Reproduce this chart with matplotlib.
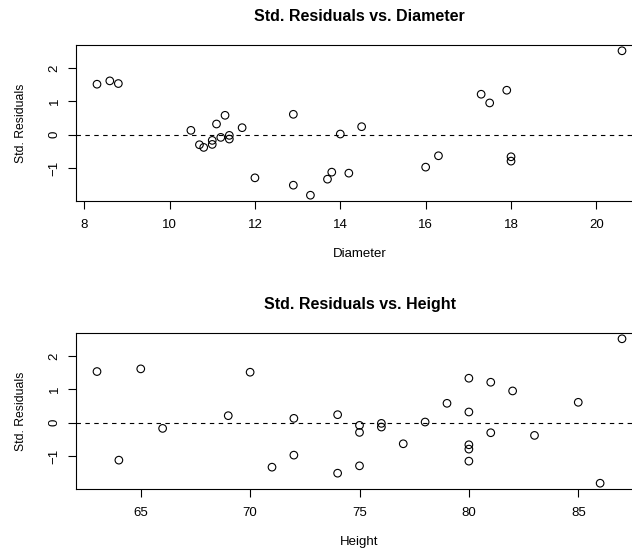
import matplotlib
matplotlib.use("Agg")
import matplotlib.pyplot as plt

plt.rcParams["font.family"] = ["Liberation Sans", "DejaVu Sans"]

# trees data: diameter (girth), height and the standardized residuals
diameter = [8.3, 8.6, 8.8, 10.5, 10.7, 10.8, 11.0, 11.0, 11.1, 11.2, 11.3, 11.4, 11.4, 11.7,
            12.0, 12.9, 12.9, 13.3, 13.7, 13.8, 14.0, 14.2, 14.5, 16.0, 16.3, 17.3, 17.5,
            17.9, 18.0, 18.0, 20.6]
height = [70, 65, 63, 72, 81, 83, 66, 75, 80, 75, 79, 76, 76, 69, 75, 74, 85, 86, 71, 64,
          78, 80, 74, 72, 77, 81, 82, 80, 80, 80, 87]
std_resid = [1.51, 1.61, 1.53, 0.13, -0.30, -0.38, -0.17, -0.29, 0.32, -0.08, 0.58, -0.02,
             -0.13, 0.21, -1.29, -1.51, 0.61, -1.81, -1.33, -1.12, 0.02, -1.15, 0.24, -0.97,
             -0.63, 1.21, 0.95, 1.33, -0.66, -0.79, 2.51]

panels = [
    ("Diameter", diameter, [8, 10, 12, 14, 16, 18, 20]),
    ("Height", height, [65, 70, 75, 80, 85]),
]

fig = plt.figure(figsize=(6.32, 5.48), dpi=100)
W, H = 632, 548
# axes boxes in pixels (left, top, right, bottom); right edge runs off the picture like the original
boxes = [(76, 45, 643, 201), (76, 333, 643, 489)]

for (name, x, ticks), (l, t, r, b) in zip(panels, boxes):
    ax = fig.add_axes([l / W, 1 - b / H, (r - l) / W, (b - t) / H])
    ax.scatter(x, std_resid, s=30, facecolors="none", edgecolors="black", linewidths=0.8)
    ax.axhline(0, color="black", linestyle=(0, (4, 4)), linewidth=0.8)

    pad = 0.04 * (max(x) - min(x))
    ax.set_xlim(min(x) - pad, max(x) + pad)
    ypad = 0.04 * (max(std_resid) - min(std_resid))
    ax.set_ylim(min(std_resid) - ypad, max(std_resid) + ypad)

    ax.set_xticks(ticks)
    ax.set_yticks([-1, 0, 1, 2])
    ax.set_yticklabels(["\u22121", "0", "1", "2"], rotation=90, va="center")
    ax.tick_params(direction="out", length=6, width=0.8, labelsize=9.5)
    ax.tick_params(axis="x", pad=7)
    ax.tick_params(axis="y", pad=5)
    for sp in ax.spines.values():
        sp.set_linewidth(0.8)

    ax.set_xlabel(name, fontsize=9.5, labelpad=12)
    ax.set_ylabel("Std. Residuals", fontsize=8.8, labelpad=16)
    ax.set_title("Std. Residuals vs. " + name, fontsize=11.5, fontweight="bold", pad=17)

fig.savefig("out.png", dpi=100)
